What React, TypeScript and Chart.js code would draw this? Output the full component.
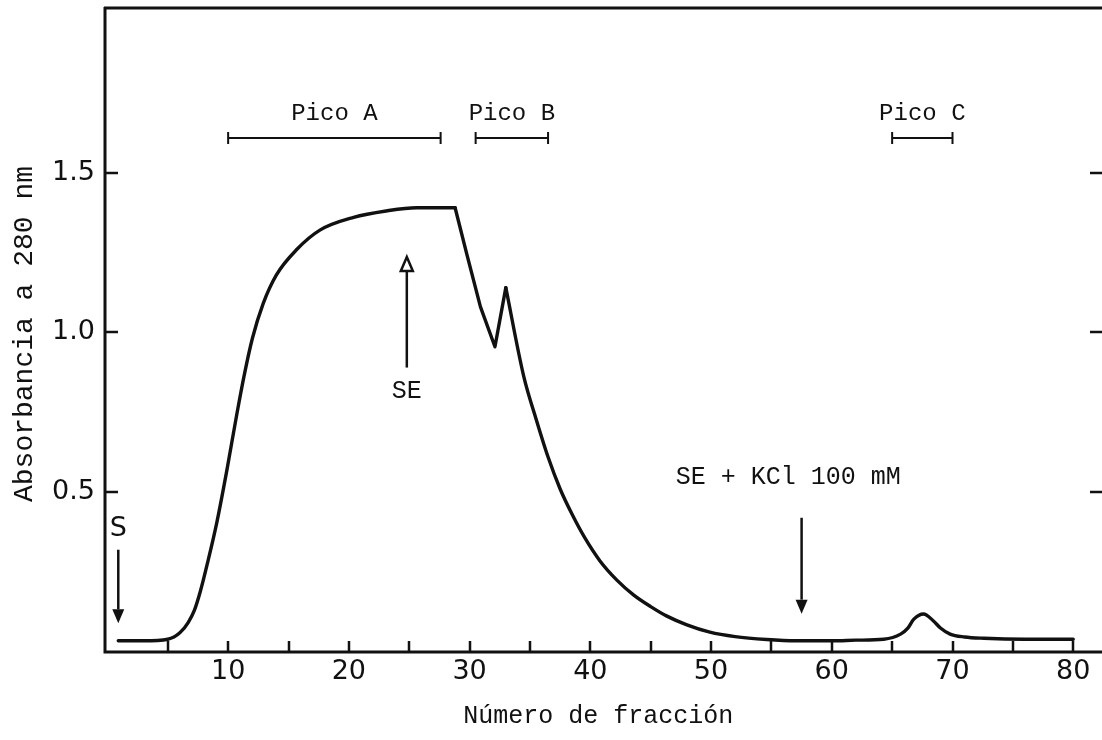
import React, { useEffect, useRef } from "react";
import { Chart, registerables } from "chart.js";

Chart.register(...registerables);

// ---- data (three pieces of one trace) ----
// rising front and plateau of peak A (smooth)
const riseX = [0.9, 3, 5, 6, 6.7, 7.2, 7.7, 8.3, 9.06, 9.9, 10.7, 11.3, 12.0, 12.9, 14.0, 15.7, 17.6, 20.4, 23.1, 25.6, 28.8];
const riseY = [0.035, 0.035, 0.04, 0.06, 0.093, 0.13, 0.19, 0.28, 0.405, 0.57, 0.74, 0.86, 0.98, 1.09, 1.18, 1.26, 1.32, 1.36, 1.38, 1.39, 1.39];
// sharp notch of peak B (straight strokes)
const notchX = [28.8, 29.8, 30.9, 32.1, 33.0];
const notchY = [1.39, 1.24, 1.08, 0.955, 1.14];
// decay and peak C (smooth)
const tailX = [33.0, 34.5, 35.5, 36.5, 37.5, 38.5, 39.5, 40.8, 42.2, 43.6, 45, 46.3, 48, 49.9, 52, 54.6, 57, 60.1, 62, 64.3, 65.7, 66.3, 66.8, 67.6, 68.4, 69, 69.8, 71, 72.6, 76, 80];
const tailY = [1.14, 0.86, 0.73, 0.61, 0.51, 0.43, 0.36, 0.285, 0.225, 0.178, 0.142, 0.113, 0.085, 0.062, 0.048, 0.039, 0.035, 0.035, 0.037, 0.04, 0.056, 0.075, 0.103, 0.119, 0.098, 0.075, 0.056, 0.047, 0.043, 0.04, 0.04];

const xTickMarks = [5, 10, 15, 20, 25, 30, 35, 40, 45, 50, 55, 60, 65, 70, 75, 80];
const xTickLabels = [10, 20, 30, 40, 50, 60, 70, 80];
const yTickValues = [0.5, 1.0, 1.5];
const yTickLabels = ["0.5", "1.0", "1.5"];

const peakNames = ["Pico A", "Pico B", "Pico C"];
const peakStart = [10, 30.5, 65];
const peakEnd = [27.6, 36.5, 70];
const peakBarLevel = 1.608;
const peakLabelLevel = 1.686;

const arrowLabels = ["S", "SE", "SE + KCl 100 mM"];
const arrowX = [0.9, 24.8, 57.5];
const arrowFrom = [0.32, 0.89, 0.42];
const arrowTo = [0.09, 1.236, 0.12];
const arrowLabelX = [0.9, 24.8, 56.4];
const arrowLabelY = [0.385, 0.816, 0.547];

const xTitle = "Número de fracción";
const yTitle = "Absorbancia a 280 nm";

const MONO = '"Liberation Mono", "DejaVu Sans Mono", monospace';
const SANS = '"DejaVu Sans", "Noto Sans", sans-serif';
const INK = "#111";

const decorPlugin = {
  id: "decor",
  afterDraw(chart: any) {
    const { ctx, chartArea, scales } = chart;
    const xs = scales.x;
    const ys = scales.y;
    const L = chartArea.left;
    const R = chartArea.right;
    const T = chartArea.top;
    const B = chartArea.bottom;
    ctx.save();
    ctx.strokeStyle = INK;
    ctx.fillStyle = INK;
    ctx.lineCap = "butt";

    // frame: left, bottom, top
    ctx.lineWidth = 3;
    ctx.beginPath();
    ctx.moveTo(L, T - 1);
    ctx.lineTo(L, B);
    ctx.lineTo(R + 2, B);
    ctx.moveTo(L - 1, T);
    ctx.lineTo(R + 2, T);
    ctx.stroke();

    // x tick marks (inward)
    ctx.lineWidth = 2.5;
    ctx.beginPath();
    xTickMarks.forEach((v) => {
      const px = Math.round(xs.getPixelForValue(v));
      ctx.moveTo(px, B);
      ctx.lineTo(px, B - 11);
    });
    // y tick marks left and right (inward)
    yTickValues.forEach((v) => {
      const py = Math.round(ys.getPixelForValue(v));
      ctx.moveTo(L, py);
      ctx.lineTo(L + 13, py);
      ctx.moveTo(R + 2, py);
      ctx.lineTo(R - 11, py);
    });
    ctx.stroke();

    // x tick labels
    ctx.font = `27px ${SANS}`;
    ctx.textAlign = "center";
    ctx.textBaseline = "middle";
    xTickLabels.forEach((v) => {
      ctx.fillText(String(v), xs.getPixelForValue(v), B + 20);
    });
    // y tick labels
    ctx.textAlign = "right";
    yTickValues.forEach((v, i) => {
      ctx.fillText(yTickLabels[i], L - 10, ys.getPixelForValue(v));
    });

    // axis titles
    ctx.font = `25px ${MONO}`;
    ctx.textAlign = "center";
    ctx.fillText(xTitle, (xs.getPixelForValue(0) + xs.getPixelForValue(80)) / 2 + 8, B + 64);
    ctx.save();
    ctx.translate(25, (T + B) / 2 + 4);
    ctx.rotate(-Math.PI / 2);
    ctx.font = `28px ${MONO}`;
    ctx.fillText(yTitle, 0, 0);
    ctx.restore();

    // peak bars
    ctx.lineWidth = 2;
    const by = ys.getPixelForValue(peakBarLevel);
    peakNames.forEach((name, i) => {
      const x1 = xs.getPixelForValue(peakStart[i]);
      const x2 = xs.getPixelForValue(peakEnd[i]);
      ctx.beginPath();
      ctx.moveTo(x1, by);
      ctx.lineTo(x2, by);
      ctx.moveTo(x1, by - 6);
      ctx.lineTo(x1, by + 6);
      ctx.moveTo(x2, by - 6);
      ctx.lineTo(x2, by + 6);
      ctx.stroke();
      ctx.font = `24px ${MONO}`;
      ctx.textAlign = "center";
      ctx.fillText(name, (x1 + x2) / 2, ys.getPixelForValue(peakLabelLevel));
    });

    // arrows
    arrowLabels.forEach((label, i) => {
      const ax = xs.getPixelForValue(arrowX[i]);
      const y0 = ys.getPixelForValue(arrowFrom[i]);
      const y1 = ys.getPixelForValue(arrowTo[i]);
      const dir = y1 > y0 ? 1 : -1;
      const headLen = 14;
      ctx.lineWidth = 2.5;
      ctx.beginPath();
      ctx.moveTo(ax, y0);
      ctx.lineTo(ax, y1 - dir * headLen);
      ctx.stroke();
      ctx.beginPath();
      ctx.moveTo(ax, y1);
      ctx.lineTo(ax - 6, y1 - dir * headLen);
      ctx.lineTo(ax + 6, y1 - dir * headLen);
      ctx.closePath();
      if (i === 1) {
        ctx.lineWidth = 2.5;
        ctx.stroke();
      } else {
        ctx.fill();
      }
      ctx.textAlign = "center";
      ctx.font = i === 0 ? `27px ${SANS}` : `25px ${MONO}`;
      ctx.fillText(label, xs.getPixelForValue(arrowLabelX[i]), ys.getPixelForValue(arrowLabelY[i]));
    });

    ctx.restore();
  },
};

function toPoints(xv: number[], yv: number[]) {
  return xv.map((x, i) => ({ x, y: yv[i] }));
}

const traceStyle = {
  borderColor: INK,
  borderWidth: 3.4,
  pointRadius: 0,
  fill: false,
  borderJoinStyle: "round" as const,
  borderCapStyle: "round" as const,
};

export default function App() {
  const canvasRef = useRef<HTMLCanvasElement | null>(null);

  useEffect(() => {
    const canvas = canvasRef.current;
    if (!canvas) return;
    const chart = new Chart(canvas, {
      type: "line",
      data: {
        datasets: [
          { ...traceStyle, data: toPoints(riseX, riseY), cubicInterpolationMode: "monotone" },
          { ...traceStyle, data: toPoints(notchX, notchY), tension: 0 },
          { ...traceStyle, data: toPoints(tailX, tailY), cubicInterpolationMode: "monotone" },
        ],
      },
      options: {
        animation: false,
        responsive: false,
        devicePixelRatio: 1,
        layout: { padding: { left: 105, right: 1, top: 8, bottom: 88 } },
        plugins: {
          legend: { display: false },
          tooltip: { enabled: false },
          title: { display: false },
        },
        scales: {
          x: { type: "linear", min: -0.2, max: 82.3, display: false },
          y: { type: "linear", min: 0, max: 2.015, display: false },
        },
      },
      plugins: [decorPlugin],
    });
    return () => chart.destroy();
  }, []);

  return (
    <div style={{ position: "absolute", left: 0, top: 0, width: 1102, height: 740, background: "#fff" }}>
      <canvas ref={canvasRef} width={1102} height={740} style={{ display: "block" }} />
    </div>
  );
}
